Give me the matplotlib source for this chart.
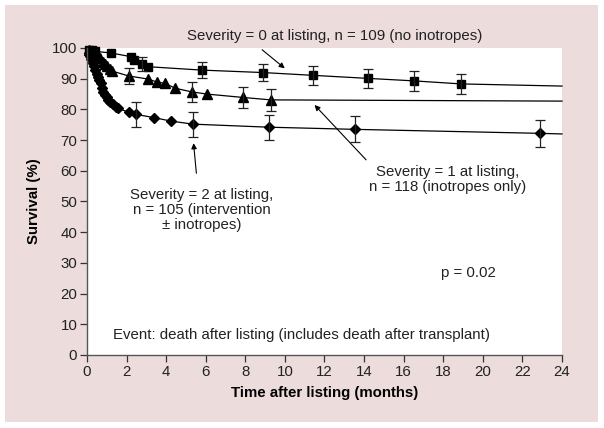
import matplotlib.pyplot as plt
from matplotlib.patches import Rectangle

plt.rcParams["font.family"] = ["Liberation Sans", "DejaVu Sans"]

# Kaplan-Meier style curves
sev0_t = [0, 0.1, 0.25, 0.4, 1.2, 2.2, 2.4, 2.8, 3.1, 5.8, 8.9, 11.4, 14.2, 16.5, 18.9, 24]
sev0_s = [100, 99.5, 99.2, 98.9, 98.4, 97.2, 96.0, 94.8, 93.9, 92.8, 92.0, 91.1, 90.1, 89.3, 88.3, 87.6]

sev1_t = [0, 0.1, 0.2, 0.35, 0.5, 0.66, 0.8, 0.9, 1.0, 1.16, 1.26, 2.1, 3.07, 3.55, 3.94, 4.45,
          5.3, 6.05, 7.87, 9.28, 24]
sev1_s = [100, 99.5, 98.8, 98.2, 97.6, 96.8, 95.6, 94.8, 94.2, 93.2, 92.5, 90.9, 89.9, 88.9, 88.5, 86.9,
          85.7, 85.0, 83.9, 83.1, 82.7]

sev2_t = [0, 0.08, 0.15, 0.22, 0.29, 0.35, 0.42, 0.5, 0.57, 0.63, 0.69, 0.75, 0.82, 0.9, 0.99, 1.08,
          1.16, 1.3, 1.45, 1.58, 2.14, 2.46, 3.4, 4.24, 5.34, 9.2, 13.54, 22.9, 24]
sev2_s = [100, 98.5, 97.5, 96.3, 95.0, 94.0, 92.8, 91.5, 90.5, 89.5, 88.5, 87.0, 85.8, 84.8, 83.9, 83.2,
          82.5, 81.6, 80.9, 80.3, 79.0, 78.4, 77.3, 76.2, 75.2, 74.2, 73.5, 72.2, 72.0]

# error bars (95% CI half-widths)
sev0_err_t = [2.8, 5.8, 8.9, 11.4, 14.2, 16.5, 18.9]
sev0_err_s = [94.8, 92.8, 92.0, 91.1, 90.1, 89.3, 88.3]
sev0_err = [2.2, 2.7, 2.7, 3.0, 3.1, 3.2, 3.2]

sev1_err_t = [2.1, 5.3, 7.87, 9.28]
sev1_err_s = [90.9, 85.7, 83.9, 83.1]
sev1_err = [2.7, 3.2, 3.4, 3.5]

sev2_err_t = [2.46, 5.34, 9.2, 13.54, 22.9]
sev2_err_s = [78.4, 75.2, 74.2, 73.5, 72.2]
sev2_err = [4.1, 4.1, 4.1, 4.2, 4.3]

x_ticks = list(range(0, 25, 2))
y_ticks = list(range(0, 101, 10))

fig = plt.figure(figsize=(6.04, 4.28), dpi=100, facecolor="white")
# pink panel behind the chart
fig.patches.append(Rectangle((5 / 604, 6 / 428), 593 / 604, 417 / 428,
                             transform=fig.transFigure, facecolor="#ecdcdc",
                             edgecolor="none", zorder=-10))

ax = fig.add_axes([87 / 604, 1 - 355 / 428, 475 / 604, 307 / 428])
ax.set_facecolor("white")
ax.set_zorder(1)

line_kw = dict(color="black", lw=0.9, markevery=slice(1, -1), clip_on=False)
ax.plot(sev0_t, sev0_s, marker="s", ms=5.5, **line_kw)
ax.plot(sev1_t, sev1_s, marker="^", ms=6.5, **line_kw)
ax.plot(sev2_t, sev2_s, marker="D", ms=5.5, **line_kw)

err_kw = dict(fmt="none", ecolor="#222222", elinewidth=0.9, capsize=3.5, capthick=0.9)
ax.errorbar(sev0_err_t, sev0_err_s, yerr=sev0_err, **err_kw)
ax.errorbar(sev1_err_t, sev1_err_s, yerr=sev1_err, **err_kw)
ax.errorbar(sev2_err_t, sev2_err_s, yerr=sev2_err, **err_kw)

ax.set_xlim(0, 24)
ax.set_ylim(0, 100)
ax.set_xticks(x_ticks)
ax.set_yticks(y_ticks)
ax.tick_params(direction="out", length=5, width=0.9, labelsize=10.8, colors="#333333",
               labelcolor="#222222", pad=2)
for side in ["top", "right"]:
    ax.spines[side].set_visible(False)
for side in ["left", "bottom"]:
    ax.spines[side].set_color("#555555")
    ax.spines[side].set_linewidth(1.0)

ax.set_xlabel("Time after listing (months)", fontsize=10.8, fontweight="bold", labelpad=5)
ax.set_ylabel("Survival (%)", fontsize=10.8, fontweight="bold", labelpad=8)

txt_kw = dict(fontsize=10.8, color="#222222")
arrow_kw = dict(arrowstyle="-|>", color="black", lw=0.8, mutation_scale=8)

ax.annotate("", xy=(10.1, 92.8), xytext=(8.74, 100), arrowprops=arrow_kw, annotation_clip=False)
ax.text(12.5, 103.9, "Severity = 0 at listing, n = 109 (no inotropes)", ha="center", va="center",
        clip_on=False, **txt_kw)

ax.annotate("", xy=(11.4, 82.1), xytext=(14.2, 62.9), arrowprops=arrow_kw)
ax.text(18.2, 62.0, "Severity = 1 at listing,\nn = 118 (inotropes only)", ha="center", va="top",
        linespacing=1.1, **txt_kw)

ax.annotate("", xy=(5.37, 69.9), xytext=(5.54, 58.3), arrowprops=arrow_kw)
ax.text(5.8, 54.3, "Severity = 2 at listing,\nn = 105 (intervention\n\u00b1 inotropes)", ha="center",
        va="top", linespacing=1.1, **txt_kw)

ax.text(19.25, 26.8, "p = 0.02", ha="center", va="center", **txt_kw)
ax.text(1.3, 6.5, "Event: death after listing (includes death after transplant)", ha="left",
        va="center", **txt_kw)

fig.savefig("out.png", dpi=100, facecolor=fig.get_facecolor())
